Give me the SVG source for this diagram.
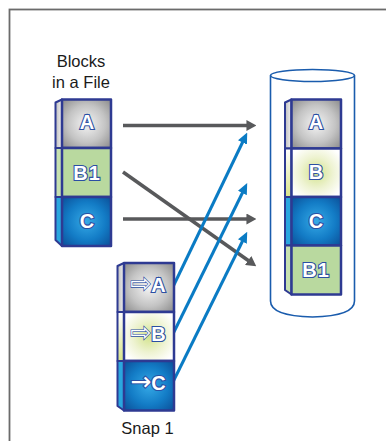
<svg xmlns="http://www.w3.org/2000/svg" width="386" height="441" viewBox="0 0 386 441">
<defs>
<radialGradient id="gA" cx="0.5" cy="0.5" r="0.7"><stop offset="0" stop-color="#f4f4f4"/><stop offset="0.55" stop-color="#c4c4c4"/><stop offset="1" stop-color="#8a8a8a"/></radialGradient>
<radialGradient id="gC" cx="0.5" cy="0.5" r="0.7"><stop offset="0" stop-color="#35a9e6"/><stop offset="0.55" stop-color="#137cc6"/><stop offset="1" stop-color="#0b4f98"/></radialGradient>
<radialGradient id="gB" cx="0.5" cy="0.5" r="0.6"><stop offset="0" stop-color="#d3e38c"/><stop offset="0.55" stop-color="#eef3d2"/><stop offset="1" stop-color="#ffffff"/></radialGradient>
<linearGradient id="sA" x1="0" y1="0" x2="1" y2="0"><stop offset="0" stop-color="#bdbdbd"/><stop offset="1" stop-color="#f2f2f2"/></linearGradient>
<linearGradient id="sB" x1="0" y1="0" x2="0" y2="1"><stop offset="0" stop-color="#ffffff"/><stop offset="1" stop-color="#d9e58a"/></linearGradient>
<marker id="hg" markerUnits="userSpaceOnUse" markerWidth="10" markerHeight="11" viewBox="0 0 9 10" refX="0.5" refY="5" orient="auto"><path d="M0,0 L9,5 L0,10 Z" fill="#58595b"/></marker>
<marker id="hb" markerUnits="userSpaceOnUse" markerWidth="11" markerHeight="10" viewBox="0 0 10 9" refX="0.5" refY="4.5" orient="auto"><path d="M0,0 L10,4.5 L0,9 Z" fill="#0a7bc4"/></marker>
</defs>
<style>
.blk{stroke:#2e3a92;stroke-width:2.5;stroke-linejoin:round}
.side{stroke:#2e3a92;stroke-width:2;stroke-linejoin:round}
.lbl{font-family:"Liberation Sans",Arial,sans-serif;font-size:20px;font-weight:bold;fill:#ffffff;stroke:#2b4fa3;stroke-width:2.2;paint-order:stroke;text-anchor:middle}
.arr{font-family:"DejaVu Sans",sans-serif;font-size:25px;font-weight:normal}
.cap{font-family:"Liberation Sans",Arial,sans-serif;font-size:16.5px;fill:#1a1a1a;text-anchor:middle}
.ga{stroke:#58595b;stroke-width:3.5;fill:none;marker-end:url(#hg)}
.ba{stroke:#0a7bc4;stroke-width:3;fill:none;marker-end:url(#hb)}
</style>
<rect x="9.5" y="9.5" width="420" height="460" fill="#ffffff" stroke="#6b6b6b" stroke-width="1.8"/>

<g id="storage">
<ellipse cx="312.5" cy="75.5" rx="42" ry="6" fill="none" stroke="#1a5cad" stroke-width="1.6"/>
<path d="M270.5,75.5 L270.5,301 Q270.5,316 312.5,317 Q354.5,316 354.5,301 L354.5,75.5" fill="none" stroke="#1a5cad" stroke-width="1.6"/>
</g>

<g id="connectors">
<line class="ga" x1="123" y1="125.5" x2="247" y2="125.5"/>
<line class="ga" x1="123" y1="219" x2="247" y2="219"/>
<line class="ga" x1="123" y1="172" x2="248.6" y2="260.8"/>
<line class="ba" x1="170" y1="293" x2="242.7" y2="142"/>
<line class="ba" x1="170" y1="340" x2="242.6" y2="192.5"/>
<line class="ba" x1="170" y1="388" x2="242.6" y2="241"/>
</g>

<g id="file-caption"><text class="cap" x="81" y="67">Blocks</text><text class="cap" x="81" y="87.5">in a File</text></g>

<g id="file-A">
<polygon class="side" points="55.5,102.5 62,99.5 62,148 55.5,148" fill="url(#sA)"/>
<rect class="blk" x="62" y="99.5" width="49" height="48.5" fill="url(#gA)"/>
<text class="lbl" x="87" y="129">A</text>
</g>
<g id="file-B1">
<polygon class="side" points="55.5,148 62,148 62,197 55.5,197" fill="#c6e1b0"/>
<rect class="blk" x="62" y="148" width="49" height="49" fill="#b9d99f"/>
<text class="lbl" x="87" y="180" letter-spacing="1">B1</text>
</g>
<g id="file-C">
<polygon class="side" points="55.5,197 62,197 62,246 55.5,240" fill="#2aa7df"/>
<rect class="blk" x="62" y="197" width="49" height="49" fill="url(#gC)"/>
<text class="lbl" x="87" y="228">C</text>
</g>

<g id="snap-A">
<polygon class="side" points="117.5,266 124,263 124,312 117.5,312" fill="url(#sA)"/>
<rect class="blk" x="124" y="263" width="50" height="49" fill="url(#gA)"/>
<text class="lbl" x="148" y="292"><tspan class="arr" stroke-width="1.2">⇨</tspan>A</text>
</g>
<g id="snap-B">
<polygon class="side" points="117.5,312 124,312 124,361 117.5,361" fill="url(#sB)"/>
<rect class="blk" x="124" y="312" width="50" height="49" fill="url(#gB)"/>
<text class="lbl" x="148" y="341"><tspan class="arr" stroke-width="1.2">⇨</tspan>B</text>
</g>
<g id="snap-C">
<polygon class="side" points="117.5,361 124,361 124,410.5 117.5,406" fill="#2aa7df"/>
<rect class="blk" x="124" y="361" width="50" height="49.5" fill="url(#gC)"/>
<text class="lbl" x="148" y="390"><tspan class="arr" font-weight="bold" font-size="22px">→</tspan>C</text>
</g>
<g id="snap-caption"><text class="cap" x="147.5" y="434">Snap 1</text></g>

<g id="disk-A">
<polygon class="side" points="285,102.5 291.5,99.5 291.5,148.5 285,148.5" fill="url(#sA)"/>
<rect class="blk" x="291.5" y="99.5" width="49.5" height="49" fill="url(#gA)"/>
<text class="lbl" x="316" y="129">A</text>
</g>
<g id="disk-B">
<polygon class="side" points="285,148.5 291.5,148.5 291.5,197 285,197" fill="url(#sB)"/>
<rect class="blk" x="291.5" y="148.5" width="49.5" height="48.5" fill="url(#gB)"/>
<text class="lbl" x="316" y="179">B</text>
</g>
<g id="disk-C">
<polygon class="side" points="285,197 291.5,197 291.5,245.5 285,245.5" fill="#2aa7df"/>
<rect class="blk" x="291.5" y="197" width="49.5" height="48.5" fill="url(#gC)"/>
<text class="lbl" x="316" y="228">C</text>
</g>
<g id="disk-B1">
<polygon class="side" points="285,245.5 291.5,245.5 291.5,294.5 285,290" fill="#c6e1b0"/>
<rect class="blk" x="291.5" y="245.5" width="49.5" height="49" fill="#b9d99f"/>
<text class="lbl" x="316" y="277" letter-spacing="1">B1</text>
</g>
</svg>
